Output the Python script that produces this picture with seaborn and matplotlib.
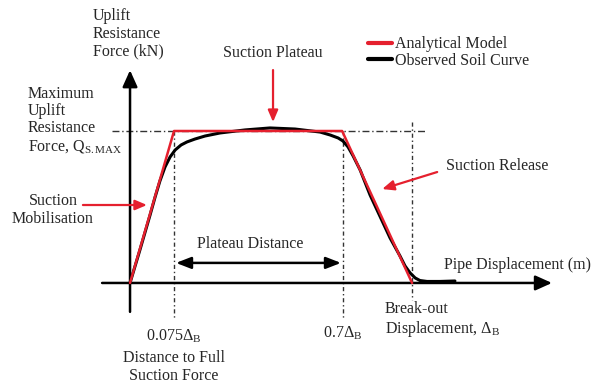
import pandas as pd
import matplotlib
matplotlib.use("Agg")
import matplotlib.pyplot as plt
import seaborn as sb

# Curva observada (posições no desenho, x em unidades de Δ_B desenhado, y em Q/Qmax)
solo_x = [0.0, 0.035, 0.071, 0.089, 0.106, 0.124, 0.142, 0.160, 0.181, 0.202,
          0.230, 0.266, 0.319, 0.408, 0.496, 0.585, 0.674, 0.709, 0.738,
          0.755, 0.773, 0.791, 0.816, 0.851, 0.922, 0.957, 0.975, 0.993,
          1.011, 1.028, 1.053, 1.099, 1.152]
solo_y = [0.0, 0.217, 0.447, 0.566, 0.671, 0.763, 0.829, 0.875, 0.908, 0.928,
          0.947, 0.967, 0.987, 1.007, 1.020, 1.013, 0.993, 0.974, 0.954,
          0.934, 0.895, 0.836, 0.743, 0.579, 0.296, 0.178, 0.112, 0.066,
          0.033, 0.016, 0.010, 0.010, 0.013]

# Modelo analítico
modelo_x = [0.0, 0.156, 0.752, 1.0]
modelo_y = [0.0, 1.0, 1.0, 0.0]

# Linhas de referência verticais e rótulos
marcas_x = [0.156, 0.755, 1.0]

vermelho = "#e5202e"
texto_cor = "#262626"

sb.set_style("white")
plt.rcParams["font.family"] = ["Liberation Serif", "DejaVu Serif"]
plt.rcParams["mathtext.fontset"] = "custom"
plt.rcParams["mathtext.rm"] = "Liberation Serif"
plt.rcParams["mathtext.it"] = "Liberation Serif:italic"

fig = plt.figure(figsize=(5.94, 3.86), dpi=100)
ax = fig.add_axes([0, 0, 1, 1])
ax.set_xlim(-0.461, 1.645)
ax.set_ylim(-0.678, 1.862)
ax.axis("off")

df_solo = pd.DataFrame({"x": solo_x, "y": solo_y})
df_modelo = pd.DataFrame({"x": modelo_x, "y": modelo_y})

sb.lineplot(data=df_solo, x="x", y="y", sort=False, color="black",
            lw=2.2, ax=ax, label="Observed Soil Curve", zorder=3)
sb.lineplot(data=df_modelo, x="x", y="y", sort=False, color=vermelho,
            lw=1.8, ax=ax, label="Analytical Model", zorder=4)

# Eixos com setas
seta_eixo = dict(arrowstyle="-|>,head_length=1.0,head_width=0.45",
                 color="black", lw=1.8, shrinkA=0, shrinkB=0)
ax.annotate("", xy=(0, 1.40), xytext=(0, -0.19), arrowprops=seta_eixo)
ax.annotate("", xy=(1.496, 0), xytext=(-0.099, 0), arrowprops=seta_eixo)

# Linhas tracejadas de referência
ax.plot([-0.064, 1.053], [1.0, 1.0], ls=(0, (5, 2, 1, 2)), color="#333333",
        lw=1.0, zorder=2)
ax.plot([marcas_x[0]] * 2, [1.0, -0.23], ls=(0, (3, 2, 1, 2)),
        color="#333333", lw=1.0, zorder=2)
ax.plot([marcas_x[1]] * 2, [1.0, -0.23], ls=(0, (3, 2, 1, 2)),
        color="#333333", lw=1.0, zorder=2)
ax.plot([marcas_x[2]] * 2, [1.06, -0.112], ls=(0, (3, 2, 1, 2)),
        color="#333333", lw=1.0, zorder=2)

# Distância do plateau
ax.annotate("", xy=(0.748, 0.132), xytext=(0.163, 0.132),
            arrowprops=dict(arrowstyle="<|-|>,head_length=0.9,head_width=0.35",
                            color="black", lw=1.8, shrinkA=0, shrinkB=0))
ax.text(0.426, 0.257, "Plateau Distance", ha="center", va="center",
        fontsize=11.5, color=texto_cor)

# Setas vermelhas
seta_verm = dict(arrowstyle="-|>,head_length=0.7,head_width=0.3",
                 color=vermelho, lw=1.6, shrinkA=0, shrinkB=0)
ax.annotate("", xy=(0.507, 1.059), xytext=(0.507, 1.401), arrowprops=seta_verm)
ax.annotate("", xy=(0.060, 0.513), xytext=(-0.167, 0.513), arrowprops=seta_verm)
ax.annotate("", xy=(0.894, 0.618), xytext=(1.089, 0.730), arrowprops=seta_verm)

# Textos
fs = 11.5
ax.text(-0.131, 1.809, "Uplift\nResistance\nForce (kN)", ha="left", va="top",
        fontsize=fs, color=texto_cor, linespacing=1.15)
ax.text(-0.362, 1.296, "Maximum\nUplift\nResistance\nForce, Q$_{\\mathrm{S.MAX}}$",
        ha="left", va="top", fontsize=fs, color=texto_cor, linespacing=1.1)
ax.text(0.507, 1.513, "Suction Plateau", ha="center", va="center",
        fontsize=fs, color=texto_cor)
ax.text(1.121, 0.770, "Suction Release", ha="left", va="center",
        fontsize=fs, color=texto_cor)
ax.text(-0.273, 0.480, "Suction\nMobilisation", ha="center", va="center",
        fontsize=fs, color=texto_cor, linespacing=1.1)
ax.text(1.113, 0.118, "Pipe Displacement (m)", ha="left", va="center",
        fontsize=fs, color=texto_cor)
ax.text(marcas_x[0], -0.349, "0.075$\\Delta_{\\mathrm{B}}$", ha="center",
        va="center", fontsize=fs, color=texto_cor)
ax.text(marcas_x[0], -0.553, "Distance to Full\nSuction Force", ha="center",
        va="center", fontsize=fs, color=texto_cor, linespacing=1.15)
ax.text(marcas_x[1], -0.329, "0.7$\\Delta_{\\mathrm{B}}$", ha="center",
        va="center", fontsize=fs, color=texto_cor)
ax.text(0.904, -0.243, "Break-out\nDisplacement, $\\Delta_{\\mathrm{B}}$",
        ha="left", va="center", fontsize=fs, color=texto_cor, linespacing=1.15)

# Legenda
handles, labels = ax.get_legend_handles_labels()
leg = ax.legend(handles[::-1], labels[::-1], loc="upper left",
                bbox_to_anchor=(0.601, 0.935), frameon=False, fontsize=fs,
                handlelength=1.5, handletextpad=0.15, labelspacing=0.05,
                borderpad=0.2)
for linha in leg.get_lines():
    linha.set_linewidth(3)
for t in leg.get_texts():
    t.set_color(texto_cor)

fig.savefig("out.png", dpi=100)
